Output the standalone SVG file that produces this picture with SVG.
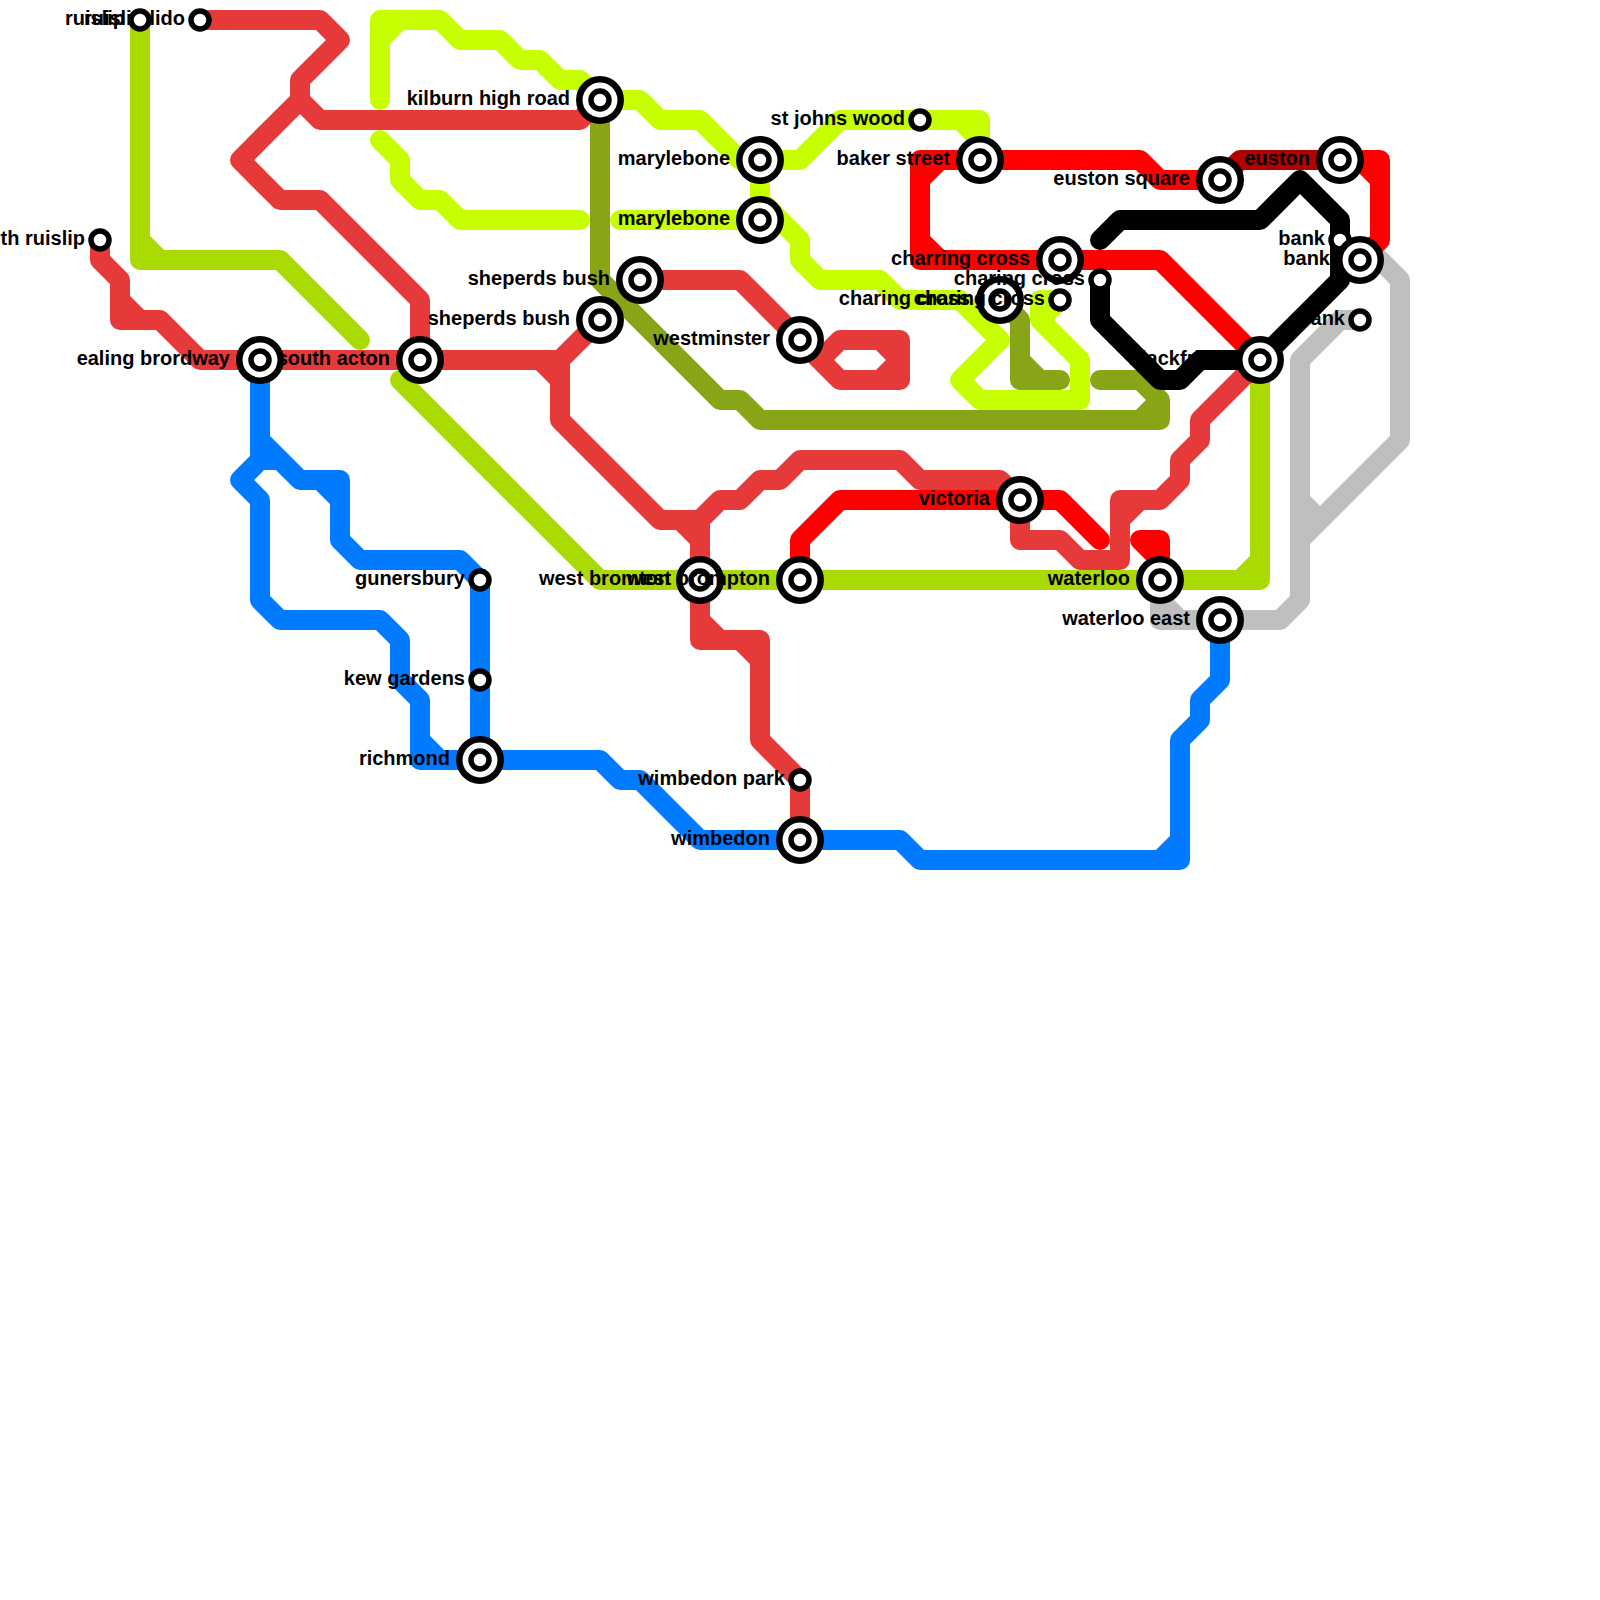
<svg xmlns="http://www.w3.org/2000/svg" width="1600" height="1600" viewBox="0 0 1600 1600">
<defs>
<style>
.l{fill:none;stroke-width:20;stroke-linecap:round;stroke-linejoin:round}
.rd{stroke:#e63939}.rb{stroke:#ff0000}.dr{stroke:#b30000}.lm{stroke:#c6ff00}.gn{stroke:#a9da04}.ol{stroke:#88a517}.bu{stroke:#007bff}.gy{stroke:#bfbfbf}.bk{stroke:#000}
.o{fill:#fff;stroke:#000;stroke-width:6.5}
.i{fill:#fff;stroke:#000;stroke-width:5.5}
text{font-family:"Liberation Sans",Arial,sans-serif;font-weight:700;font-size:20px;text-anchor:end;fill:#000}
</style>
<g id="ic"><circle class="o" r="20.7"/><circle class="i" r="9"/></g>
<circle id="sm" class="i" r="9"/>
</defs>
<g id="connectors">
<path id="line-gray" class="l gy" d="M1160 580V620H1280L1300 600V360L1340 320H1360M1160 600L1180 620M1360 260H1380L1400 280V440L1300 540M1300 500L1320 520"/>
<path id="line-lime" class="l lm" d="M380 100V40L400 20H380V40M400 20H440L460 40H500L520 60H540L560 80H580L600 100H640L660 120H700L740 160H800L840 120H980V160M960 120L980 140M760 160V220M760 200L800 240V260L820 280H880L900 300H960L1000 340L960 380L980 400H1080V360L1040 320V300H1060L1040 320M380 140L400 160V180L420 200H440L460 220H580M620 220H760"/>
<path id="line-green" class="l gn" d="M140 20V260H280L360 340M140 240L160 260M400 380L600 580H1260V360M1240 580L1260 560"/>
<path id="line-olive" class="l ol" d="M600 100V280L720 400H740L760 420H1160V400L1140 380H1100M1140 420L1160 400M1000 300L1020 320V380H1060M1020 360L1040 380"/>
<path id="line-red" class="l rb" d="M980 160H1140L1160 180H1220M980 160H920V260H1060H1160L1260 360M940 160L920 180M920 240L940 260M1340 160H1380V240L1360 260M1360 160L1380 180M800 580V540L840 500H1060L1100 540M1160 580V540H1140L1160 560"/>
<path id="line-darkred" class="l dr" d="M1220 180L1240 160H1340"/>
<path id="line-crimson" class="l rd" d="M200 20H320L340 40L300 80V100L320 120H580L600 100M300 100L240 160L280 200H320L420 300V360M100 240V260L120 280V320H160L200 360H560L600 320M120 300L140 320M540 360L560 380M560 360V420L660 520H700L720 500H740L760 480H780L800 460H900L920 480H1000L1020 500V540H1060L1080 560H1120V500H1160L1180 480V460L1200 440V420L1260 360M680 520L700 540V640H760V740L800 780V840M700 620L720 640M740 640L760 660M700 520V540M1120 520L1140 500M640 280H740L840 380H900V340H840L820 360M880 340L900 360L880 380"/>
<path id="line-blue" class="l bu" d="M260 360V460H280L300 480H340V540L360 560H460L480 580V760H600L620 780H640L700 840H900L920 860H1180V740L1200 720V700L1220 680V620M260 440L300 480M320 480L340 500M260 460L240 480L260 500V600L280 620H380L400 640V680L420 700V760H480M420 740L440 760M1160 860L1180 840"/>
<path id="line-black" class="l bk" d="M1100 240L1120 220H1260L1300 180L1340 220V280L1260 360H1200L1180 380H1160L1100 320V280"/>
</g>
<g id="st-south-acton"><use href="#ic" x="420" y="360"/><text x="390" y="365">south acton</text></g>
<g id="st-ealing"><use href="#ic" x="260" y="360"/><text x="230" y="365">ealing brordway</text></g>
<g id="st-ruislip-lido"><use href="#sm" x="200" y="20"/><text x="185" y="25">ruislip lido</text></g>
<g id="st-ruislip"><use href="#sm" x="140" y="20"/><text x="125" y="25">ruislip</text></g>
<g id="st-south-ruislip"><use href="#sm" x="100" y="240"/><text x="85" y="245">south ruislip</text></g>
<g id="st-kilburn"><use href="#ic" x="600" y="100"/><text x="570" y="105">kilburn high road</text></g>
<g id="st-sheperds-1"><use href="#ic" x="640" y="280"/><text x="610" y="285">sheperds bush</text></g>
<g id="st-sheperds-2"><use href="#ic" x="600" y="320"/><text x="570" y="325">sheperds bush</text></g>
<g id="st-marylebone-1"><use href="#ic" x="760" y="160"/><text x="730" y="165">marylebone</text></g>
<g id="st-marylebone-2"><use href="#ic" x="760" y="220"/><text x="730" y="225">marylebone</text></g>
<g id="st-westminster"><use href="#ic" x="800" y="340"/><text x="770" y="345">westminster</text></g>
<g id="st-johns-wood"><use href="#sm" x="920" y="120"/><text x="905" y="125">st johns wood</text></g>
<g id="st-baker"><use href="#ic" x="980" y="160"/><text x="950" y="165">baker street</text></g>
<g id="st-charring"><use href="#ic" x="1060" y="260"/><text x="1030" y="265">charring cross</text></g>
<g id="st-charing-1"><use href="#ic" x="1000" y="300"/><text x="970" y="305">charing cross</text></g>
<g id="st-charing-2"><use href="#sm" x="1060" y="300"/><text x="1045" y="305">charing cross</text></g>
<g id="st-charing-3"><use href="#sm" x="1100" y="280"/><text x="1085" y="285">charing cross</text></g>
<g id="st-euston-square"><use href="#ic" x="1220" y="180"/><text x="1190" y="185">euston square</text></g>
<g id="st-euston"><use href="#ic" x="1340" y="160"/><text x="1310" y="165">euston</text></g>
<g id="st-bank-1"><use href="#sm" x="1340" y="240"/><text x="1325" y="245">bank</text></g>
<g id="st-bank-2"><use href="#ic" x="1360" y="260"/><text x="1330" y="265">bank</text></g>
<g id="st-bank-3"><use href="#sm" x="1360" y="320"/><text x="1345" y="325">bank</text></g>
<g id="st-blackfriars"><use href="#ic" x="1260" y="360"/><text x="1230" y="365">blackfriars</text></g>
<g id="st-victoria"><use href="#ic" x="1020" y="500"/><text x="990" y="505">victoria</text></g>
<g id="st-west-bromton"><use href="#ic" x="700" y="580"/><text x="670" y="585">west bromton</text></g>
<g id="st-west-brompton"><use href="#ic" x="800" y="580"/><text x="770" y="585">west brompton</text></g>
<g id="st-waterloo"><use href="#ic" x="1160" y="580"/><text x="1130" y="585">waterloo</text></g>
<g id="st-waterloo-east"><use href="#ic" x="1220" y="620"/><text x="1190" y="625">waterloo east</text></g>
<g id="st-gunersbury"><use href="#sm" x="480" y="580"/><text x="465" y="585">gunersbury</text></g>
<g id="st-kew"><use href="#sm" x="480" y="680"/><text x="465" y="685">kew gardens</text></g>
<g id="st-richmond"><use href="#ic" x="480" y="760"/><text x="450" y="765">richmond</text></g>
<g id="st-wimbedon-park"><use href="#sm" x="800" y="780"/><text x="785" y="785">wimbedon park</text></g>
<g id="st-wimbedon"><use href="#ic" x="800" y="840"/><text x="770" y="845">wimbedon</text></g>
</svg>
